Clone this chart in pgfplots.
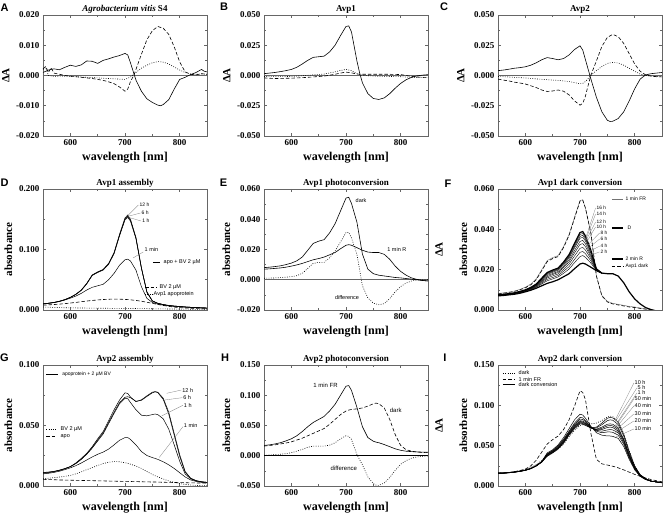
\documentclass[border=0pt]{standalone}
\usepackage{fontspec}
\setmainfont{Liberation Serif}
\newfontfamily\lab{Liberation Sans}
\usepackage{pgfplots}
\usepackage{pgfplotstable}
\pgfplotsset{compat=1.18}
\pgfplotsset{
  panel/.style={scale only axis, width=164pt, height=121pt, anchor=north west,
    xmin=550, xmax=850, xtick={600,700,800}, minor x tick num=1, minor y tick num=1,
    tick align=inside, major tick length=3pt, minor tick length=1.6pt,
    axis line style={black!60, line width=0.6pt}, tick style={black!60, line width=0.5pt},
    scaled y ticks=false,
    yticklabel style={/pgf/number format/.cd, fixed, fixed zerofill, precision=3},
    /pgf/number format/assume math mode=true,
    tick label style={font=\bfseries\fontsize{9}{10}\selectfont},
    xlabel={wavelength [nm]},
    xlabel style={font=\bfseries\fontsize{12}{12}\selectfont},
    ylabel style={font=\bfseries\fontsize{11}{11}\selectfont},
    every axis title shift=0pt,
    title style={font=\bfseries\fontsize{9}{10}\selectfont, at={(0.5,1)}, anchor=base, yshift=3.6pt, inner sep=0pt},
  },
}
\tikzset{
  sol/.style={black, line width=0.6pt},
  das/.style={black, line width=0.6pt, dash pattern=on 3.5pt off 2pt},
  dot/.style={black, line width=0.6pt, dash pattern=on 0.8pt off 1.5pt},
  zero/.style={black!60, line width=0.7pt},
  lbl/.style={font=\lab\fontsize{5.5}{6}\selectfont, inner sep=0.5pt, anchor=west},
  ldr/.style={black!50, line width=0.3pt},
}
\pgfplotstableread{
x dark fr r diff
550 .0080 .0082 .0070 .0010
560 .0083 .0085 .0072 .0011
570 .0087 .0089 .0075 .0012
580 .0092 .0094 .0078 .0014
590 .0100 .0102 .0083 .0017
600 .0110 .0113 .0090 .0020
610 .0125 .0129 .0098 .0027
620 .0150 .0155 .0108 .0042
630 .0195 .0200 .0120 .0075
640 .0240 .0245 .0132 .0108
650 .0255 .0260 .0140 .0115
660 .0265 .0270 .0150 .0115
670 .0310 .0315 .0165 .0145
680 .0370 .0375 .0180 .0190
690 .0455 .0460 .0205 .0250
700 .0540 .0543 .0228 .0312
705 .0545 .0546 .0232 .0313
710 .0505 .0505 .0228 .0277
720 .0380 .0378 .0212 .0168
730 .0170 .0165 .0195 -.0040
740 .0070 .0072 .0183 -.0120
750 .0040 .0043 .0180 -.0155
760 .0030 .0033 .0180 -.0165
770 .0025 .0028 .0168 -.0158
780 .0020 .0023 .0135 -.0125
790 .0015 .0018 .0090 -.0080
800 .0012 .0015 .0055 -.0045
810 .0008 .0010 .0030 -.0022
820 .0004 .0006 .0012 -.0008
830 .0000 .0002 .0002 -.0002
840 -.0005 -.0003 -.0005 .0000
850 -.0008 -.0006 -.0008 .0000
}\tabAvpA
\pgfplotstableread{
x h2 h4 h6 h8 h10 h12 h14 h16 hD
550 .0071 .0072 .0073 .0073 .0074 .0074 .0074 .0075 .0075
560 .0073 .0074 .0075 .0075 .0076 .0077 .0077 .0077 .0078
570 .0076 .0077 .0078 .0079 .0079 .0080 .0080 .0081 .0081
580 .0080 .0081 .0082 .0082 .0083 .0084 .0084 .0085 .0085
590 .0085 .0086 .0087 .0088 .0089 .0090 .0090 .0091 .0092
600 .0092 .0094 .0095 .0096 .0097 .0098 .0099 .0099 .0100
610 .0101 .0103 .0105 .0106 .0108 .0109 .0110 .0111 .0112
620 .0113 .0116 .0119 .0121 .0123 .0125 .0126 .0128 .0129
630 .0129 .0134 .0139 .0143 .0147 .0151 .0153 .0155 .0158
640 .0145 .0152 .0159 .0165 .0171 .0176 .0180 .0183 .0186
650 .0154 .0161 .0169 .0176 .0181 .0187 .0191 .0194 .0198
660 .0164 .0171 .0179 .0186 .0191 .0197 .0201 .0204 .0208
670 .0182 .0192 .0201 .0210 .0217 .0224 .0229 .0233 .0238
680 .0203 .0215 .0228 .0239 .0248 .0258 .0264 .0269 .0275
690 .0235 .0251 .0268 .0283 .0295 .0308 .0315 .0323 .0330
700 .0265 .0286 .0306 .0325 .0340 .0356 .0365 .0375 .0384
705 .0270 .0290 .0310 .0329 .0345 .0360 .0370 .0379 .0389
710 .0261 .0279 .0297 .0314 .0328 .0342 .0350 .0358 .0367
720 .0232 .0243 .0254 .0264 .0272 .0281 .0286 .0291 .0296
730 .0196 .0197 .0198 .0199 .0200 .0201 .0202 .0203 .0204
740 .0183 .0183 .0183 .0183 .0183 .0183 .0183 .0183 .0183
}\tabFint
\pgfplotstableread{
x h12 h6 h1 m1 bv apo
550 .0100 .0100 .0100 .0100 .0080 .0050
560 .0112 .0112 .0111 .0110 .0085 .0046
570 .0125 .0125 .0124 .0122 .0090 .0043
580 .0145 .0144 .0143 .0140 .0097 .0040
590 .0172 .0171 .0170 .0165 .0105 .0037
600 .0210 .0208 .0206 .0195 .0115 .0035
610 .0260 .0258 .0256 .0230 .0125 .0034
620 .0330 .0327 .0324 .0275 .0137 .0033
630 .0440 .0436 .0432 .0330 .0148 .0032
640 .0580 .0575 .0570 .0375 .0158 .0031
650 .0630 .0625 .0620 .0400 .0166 .0030
660 .0670 .0665 .0660 .0425 .0173 .0029
670 .0770 .0762 .0755 .0500 .0178 .0028
680 .0950 .0940 .0930 .0606 .0180 .0027
690 .1250 .1238 .1225 .0740 .0179 .0027
700 .1520 .1505 .1490 .0830 .0175 .0026
705 .1570 .1550 .1530 .0840 .0172 .0026
710 .1500 .1485 .1470 .0810 .0168 .0025
720 .1200 .1190 .1180 .0660 .0158 .0024
730 .0700 .0695 .0690 .0386 .0145 .0023
740 .0300 .0298 .0296 .0193 .0128 .0022
750 .0150 .0150 .0150 .0125 .0110 .0020
760 .0110 .0110 .0110 .0095 .0092 .0019
770 .0090 .0090 .0090 .0080 .0075 .0018
780 .0075 .0075 .0075 .0068 .0060 .0017
790 .0065 .0065 .0065 .0060 .0048 .0016
800 .0058 .0058 .0058 .0054 .0040 .0015
810 .0050 .0050 .0050 .0048 .0033 .0014
820 .0045 .0045 .0045 .0043 .0028 .0013
830 .0040 .0040 .0040 .0039 .0024 .0013
840 .0036 .0036 .0036 .0035 .0021 .0012
850 .0032 .0032 .0032 .0031 .0019 .0012
}\tabD
\pgfplotstableread{
x h12 h6 h1 m1 bv apo
550 .0105 .0110 .0112 .0100 .0060 .0055
560 .0110 .0114 .0115 .0105 .0064 .0053
570 .0118 .0120 .0121 .0112 .0069 .0052
580 .0128 .0130 .0131 .0122 .0074 .0050
590 .0142 .0143 .0144 .0135 .0080 .0049
600 .0160 .0160 .0160 .0150 .0087 .0048
610 .0190 .0187 .0185 .0168 .0100 .0047
620 .0228 .0222 .0220 .0190 .0117 .0046
630 .0270 .0265 .0262 .0215 .0135 .0045
640 .0325 .0318 .0313 .0240 .0152 .0044
650 .0390 .0380 .0372 .0262 .0170 .0043
660 .0450 .0440 .0430 .0280 .0185 .0042
670 .0540 .0525 .0515 .0305 .0196 .0041
680 .0630 .0610 .0600 .0340 .0202 .0040
690 .0710 .0690 .0680 .0378 .0200 .0039
700 .0770 .0733 .0725 .0400 .0192 .0038
705 .0765 .0738 .0722 .0400 .0188 .0038
710 .0735 .0730 .0690 .0385 .0180 .0037
720 .0697 .0700 .0630 .0340 .0165 .0036
730 .0712 .0708 .0585 .0285 .0145 .0035
740 .0745 .0740 .0580 .0252 .0120 .0034
750 .0775 .0770 .0590 .0235 .0095 .0033
755 .0780 .0778 .0595 .0228 .0085 .0033
760 .0775 .0772 .0590 .0220 .0075 .0032
770 .0725 .0715 .0555 .0200 .0058 .0031
780 .0610 .0595 .0470 .0175 .0042 .0030
790 .0435 .0420 .0340 .0145 .0030 .0029
800 .0260 .0245 .0205 .0110 .0020 .0028
810 .0120 .0115 .0100 .0075 .0013 .0027
820 .0065 .0062 .0060 .0050 .0008 .0026
830 .0045 .0043 .0042 .0038 .0005 .0025
840 .0035 .0034 .0035 .0030 .0003 .0025
850 .0030 .0030 .0030 .0025 .0002 .0024
}\tabG
\pgfplotstableread{
x fr dark diff
550 .0170 .0160 .0010
560 .0180 .0170 .0012
570 .0195 .0180 .0018
580 .0215 .0195 .0025
590 .0245 .0210 .0035
600 .0280 .0230 .0050
610 .0330 .0260 .0075
620 .0400 .0290 .0105
630 .0480 .0330 .0140
640 .0550 .0370 .0160
650 .0600 .0410 .0160
660 .0650 .0450 .0160
670 .0740 .0520 .0175
680 .0850 .0600 .0215
690 .1000 .0680 .0280
700 .1150 .0740 .0330
705 .1160 .0755 .0320
710 .1080 .0765 .0270
720 .0800 .0775 .0020
730 .0480 .0790 -.0150
740 .0300 .0820 -.0350
750 .0240 .0860 -.0460
755 .0225 .0870 -.0485
760 .0215 .0860 -.0490
770 .0185 .0790 -.0450
780 .0150 .0600 -.0360
790 .0115 .0350 -.0240
800 .0090 .0170 -.0140
810 .0075 .0100 -.0080
820 .0068 .0075 -.0040
830 .0063 .0062 -.0020
840 .0060 .0055 -.0008
850 .0058 .0050 -.0003
}\tabH
\pgfplotstableread{
x fr dark m10 m20 m30 m40 m50 h1 h5 h10
550 .0156 .0160 .0158 .0159 .0160 .0160 .0161 .0161 .0162 .0163
560 .0160 .0162 .0158 .0159 .0160 .0160 .0161 .0161 .0162 .0163
570 .0168 .0168 .0163 .0164 .0165 .0165 .0166 .0166 .0167 .0168
580 .0178 .0176 .0170 .0171 .0172 .0172 .0173 .0173 .0174 .0175
590 .0192 .0188 .0180 .0181 .0182 .0182 .0183 .0183 .0184 .0185
600 .0210 .0205 .0193 .0194 .0195 .0195 .0196 .0196 .0197 .0198
610 .0250 .0230 .0215 .0215 .0216 .0216 .0217 .0217 .0218 .0218
620 .0320 .0265 .0252 .0251 .0251 .0250 .0250 .0249 .0249 .0248
630 .0420 .0315 .0305 .0303 .0302 .0300 .0299 .0298 .0296 .0295
640 .0520 .0370 .0410 .0400 .0395 .0390 .0385 .0380 .0375 .0370
650 .0575 .0410 .0450 .0440 .0435 .0430 .0425 .0420 .0415 .0410
660 .0620 .0455 .0510 .0500 .0490 .0480 .0475 .0470 .0465 .0460
670 .0700 .0520 .0600 .0580 .0570 .0560 .0550 .0545 .0540 .0530
680 .0820 .0610 .0710 .0680 .0670 .0660 .0650 .0645 .0640 .0630
690 .0990 .0690 .0820 .0780 .0765 .0750 .0740 .0730 .0720 .0710
700 .1180 .0750 .0890 .0850 .0830 .0810 .0800 .0790 .0780 .0770
705 .1160 .0758 .0880 .0845 .0825 .0805 .0795 .0785 .0775 .0765
710 .1070 .0765 .0840 .0810 .0800 .0785 .0775 .0770 .0760 .0750
720 .0650 .0770 .0740 .0730 .0725 .0720 .0720 .0720 .0720 .0720
730 .0330 .0780 .0660 .0680 .0690 .0695 .0700 .0705 .0720 .0730
740 .0275 .0810 .0630 .0660 .0680 .0700 .0715 .0730 .0760 .0780
750 .0260 .0855 .0620 .0670 .0695 .0725 .0745 .0765 .0810 .0840
755 .0252 .0865 .0620 .0670 .0700 .0730 .0750 .0770 .0820 .0850
760 .0245 .0860 .0615 .0665 .0695 .0725 .0745 .0765 .0815 .0845
770 .0225 .0800 .0590 .0630 .0660 .0680 .0700 .0720 .0760 .0790
780 .0200 .0650 .0490 .0520 .0540 .0560 .0570 .0580 .0620 .0640
790 .0172 .0440 .0330 .0350 .0360 .0370 .0380 .0390 .0410 .0430
800 .0144 .0250 .0200 .0210 .0220 .0220 .0230 .0230 .0240 .0250
810 .0120 .0140 .0120 .0120 .0130 .0130 .0130 .0130 .0140 .0140
820 .0100 .0090 .0080 .0080 .0080 .0090 .0090 .0090 .0090 .0090
830 .0080 .0065 .0060 .0060 .0060 .0060 .0060 .0060 .0060 .0060
840 .0065 .0052 .0050 .0050 .0050 .0050 .0050 .0050 .0050 .0050
850 .0052 .0045 .0040 .0040 .0040 .0040 .0040 .0040 .0040 .0040
}\tabI
\begin{document}
\begin{tikzpicture}
\path[use as bounding box] (0,0) rectangle (664pt,514pt);
% ---------------- A
\begin{axis}[panel, at={(43pt,499pt)}, ymin=-0.02, ymax=0.02, ytick={-0.02,-0.01,0,0.01,0.02},
  ylabel={ΔA}, title={\textit{Agrobacterium vitis} S4}]
\addplot[zero] coordinates {(550,0) (850,0)};
\addplot[sol] coordinates {(550,.0010)(560,.0018)(570,.0022)(580,.0019)(590,.0027)(600,.0034)(610,.0030)(620,.0035)(630,.0048)(640,.0047)(650,.0040)(660,.0050)(670,.0055)(680,.0061)(690,.0066)(700,.0073)(705,.0068)(710,.0042)(720,-.0015)(730,-.0052)(740,-.0077)(750,-.0089)(760,-.0098)(765,-.0100)(770,-.0096)(780,-.0080)(790,-.0045)(800,-.0013)(810,-.0006)(820,.0003)(830,.0010)(840,.0020)(845,.0014)(850,.0012)};
\addplot[das] coordinates {(550,.0022)(555,.0030)(560,.0010)(565,.0026)(570,.0008)(580,.0004)(590,.0000)(600,-.0002)(610,-.0004)(620,-.0006)(630,-.0008)(640,-.0010)(650,-.0013)(660,-.0016)(670,-.0021)(680,-.0027)(690,-.0038)(700,-.0052)(705,-.0045)(710,-.0020)(716,.0000)(720,.0020)(730,.0070)(740,.0118)(750,.0148)(760,.0162)(770,.0156)(780,.0136)(790,.0095)(800,.0045)(810,.0012)(820,.0004)(830,.0002)(840,.0006)(850,.0004)};
\addplot[dot] coordinates {(550,.0020)(555,.0026)(560,.0000)(570,-.0003)(580,-.0002)(600,-.0003)(620,-.0005)(640,-.0007)(660,-.0009)(680,-.0011)(700,-.0013)(710,-.0005)(720,.0010)(730,.0024)(740,.0034)(750,.0042)(760,.0046)(770,.0044)(780,.0038)(790,.0028)(800,.0018)(810,.0010)(820,.0005)(830,.0004)(840,.0005)(850,.0004)};
\end{axis}
% ---------------- B
\begin{axis}[panel, at={(264pt,499pt)}, ymin=-0.05, ymax=0.05, ytick={-0.05,-0.025,0,0.025,0.05},
  ylabel={ΔA}, title={Avp1}]
\addplot[zero] coordinates {(550,0) (850,0)};
\addplot[sol] coordinates {(550,.0015)(560,.0020)(570,.0025)(580,.0032)(590,.0040)(600,.0050)(610,.0068)(620,.0095)(630,.0125)(640,.0150)(650,.0155)(660,.0160)(670,.0195)(680,.0250)(690,.0330)(700,.0405)(705,.0410)(710,.0360)(720,.0120)(725,.0020)(730,-.0060)(740,-.0150)(750,-.0190)(760,-.0198)(770,-.0185)(780,-.0150)(790,-.0105)(800,-.0065)(810,-.0035)(820,-.0015)(830,-.0003)(840,.0003)(850,.0007)};
\addplot[das] coordinates {(550,-.0020)(570,-.0025)(600,-.0022)(620,-.0018)(640,-.0012)(660,-.0005)(680,.0010)(690,.0020)(700,.0028)(710,.0022)(720,.0012)(730,.0010)(750,.0010)(780,.0010)(800,.0008)(810,.0000)(820,-.0008)(830,-.0012)(840,-.0015)(850,-.0015)};
\addplot[dot] coordinates {(550,-.0008)(570,-.0010)(600,-.0008)(620,-.0002)(640,.0005)(660,.0012)(680,.0030)(690,.0042)(700,.0050)(710,.0040)(720,.0015)(730,.0002)(750,-.0005)(780,-.0008)(800,-.0010)(820,-.0015)(840,-.0018)(850,-.0018)};
\end{axis}
% ---------------- C
\begin{axis}[panel, at={(498pt,499pt)}, ymin=-0.05, ymax=0.05, ytick={-0.05,-0.025,0,0.025,0.05},
  ylabel={ΔA}, title={Avp2}]
\addplot[zero] coordinates {(550,0) (850,0)};
\addplot[sol] coordinates {(550,.0040)(560,.0045)(570,.0052)(580,.0060)(590,.0065)(600,.0072)(610,.0085)(620,.0105)(630,.0130)(640,.0148)(650,.0140)(660,.0130)(670,.0140)(680,.0170)(690,.0215)(700,.0245)(705,.0210)(710,.0130)(715,.0050)(720,-.0030)(730,-.0180)(740,-.0300)(750,-.0370)(755,-.0380)(760,-.0378)(770,-.0355)(780,-.0300)(790,-.0210)(800,-.0110)(810,-.0030)(820,.0005)(830,.0015)(840,.0020)(850,.0025)};
\addplot[das] coordinates {(550,-.0030)(560,-.0038)(570,-.0045)(580,-.0055)(590,-.0062)(600,-.0070)(610,-.0085)(620,-.0100)(630,-.0120)(640,-.0132)(650,-.0128)(660,-.0120)(670,-.0130)(680,-.0160)(690,-.0210)(700,-.0245)(705,-.0230)(710,-.0170)(715,-.0080)(720,.0005)(730,.0120)(740,.0240)(750,.0315)(760,.0340)(770,.0320)(780,.0265)(790,.0180)(800,.0095)(810,.0035)(820,.0005)(830,-.0005)(840,-.0010)(850,-.0012)};
\addplot[dot] coordinates {(550,-.0008)(560,-.0010)(580,-.0015)(600,-.0020)(620,-.0028)(640,-.0035)(660,-.0040)(680,-.0050)(700,-.0068)(705,-.0065)(710,-.0050)(715,-.0025)(720,.0003)(730,.0040)(740,.0075)(750,.0100)(760,.0108)(770,.0103)(780,.0085)(790,.0060)(800,.0035)(810,.0012)(820,.0000)(830,-.0005)(840,-.0008)(850,-.0010)};
\end{axis}
% ---------------- D
\begin{axis}[panel, at={(43pt,325pt)}, ymin=0, ymax=0.2, ytick={0,0.1,0.2},
  ylabel={absorbance}, title={Avp1 assembly}]
\addplot[sol, line width=0.5pt] table[x=x,y=h12]{\tabD};
\addplot[sol, line width=0.5pt] table[x=x,y=h6]{\tabD};
\addplot[sol, line width=0.5pt] table[x=x,y=h1]{\tabD};
\addplot[sol, line width=0.5pt] table[x=x,y=m1]{\tabD};
\addplot[das] table[x=x,y=bv]{\tabD};
\addplot[dot] table[x=x,y=apo]{\tabD};
\draw[ldr] (axis cs:705,0.156) -- (axis cs:724.5,0.1736);
\draw[ldr] (axis cs:706,0.155) -- (axis cs:728.3,0.1603);
\draw[ldr] (axis cs:707,0.153) -- (axis cs:729.5,0.1471);
\draw[ldr] (axis cs:714.6,0.086) -- (axis cs:733.5,0.0960);
\node[lbl, font=\lab\fontsize{5}{6}\selectfont] at (axis cs:725.6,0.1736) {12 h};
\node[lbl, font=\lab\fontsize{5}{6}\selectfont] at (axis cs:729.3,0.1603) {6 h};
\node[lbl, font=\lab\fontsize{5}{6}\selectfont] at (axis cs:730.5,0.1471) {1 h};
\node[lbl] at (axis cs:734.8,0.0992) {1 min};
\draw[black, line width=0.7pt] (axis cs:751,0.0793) -- (axis cs:764,0.0793);
\node[lbl] at (axis cs:769.5,0.0793) {apo + BV 2 µM};
\draw[das] (axis cs:736.6,0.038) -- (axis cs:758.5,0.038);
\node[lbl] at (axis cs:762.2,0.038) {BV 2 µM};
\draw[dot] (axis cs:736.6,0.0264) -- (axis cs:749.4,0.0264);
\node[lbl] at (axis cs:751.2,0.0264) {Avp1 apoprotein};
\end{axis}
% ---------------- E
\begin{axis}[panel, name=E, at={(264pt,325pt)}, ymin=-0.02, ymax=0.06, ytick={-0.02,0,0.02,0.04,0.06},
  ylabel={absorbance}, title={Avp1 photoconversion}]
\addplot[zero] coordinates {(550,0) (850,0)};
\addplot[sol] table[x=x,y=dark]{\tabAvpA};
\addplot[sol] table[x=x,y=r]{\tabAvpA};
\addplot[dot] table[x=x,y=diff]{\tabAvpA};
\node[lbl] at (axis cs:716.5,0.0521) {dark};
\node[lbl] at (axis cs:774.4,0.0201) {1 min R};
\node[lbl] at (axis cs:678.6,-0.0119) {difference};
\end{axis}
\node[rotate=90, font=\bfseries\fontsize{11}{11}\selectfont] at ([xshift=11pt]E.east) {ΔA};
% ---------------- F
\begin{axis}[panel, at={(498pt,325pt)}, ymin=0, ymax=0.06, ytick={0,0.02,0.04,0.06},
  ylabel={absorbance}, title={Avp1 dark conversion}]
\addplot[black!55, line width=0.4pt] table[x=x,y=fr]{\tabAvpA};
\addplot[das] table[x=x,y=dark]{\tabAvpA};
\addplot[black, line width=1.2pt] table[x=x,y=r]{\tabAvpA};
\addplot[black, line width=0.4pt] table[x=x,y=h2]{\tabFint};
\addplot[black, line width=0.4pt] table[x=x,y=h4]{\tabFint};
\addplot[black, line width=0.4pt] table[x=x,y=h6]{\tabFint};
\addplot[black, line width=0.4pt] table[x=x,y=h8]{\tabFint};
\addplot[black, line width=0.4pt] table[x=x,y=h10]{\tabFint};
\addplot[black, line width=0.4pt] table[x=x,y=h12]{\tabFint};
\addplot[black, line width=0.4pt] table[x=x,y=h14]{\tabFint};
\addplot[black, line width=0.4pt] table[x=x,y=h16]{\tabFint};
\addplot[black, line width=1.2pt] table[x=x,y=hD]{\tabFint};
\draw[ldr] (axis cs:711,0.0362) -- (axis cs:728.5,0.0506);
\draw[ldr] (axis cs:711,0.0353) -- (axis cs:728.5,0.0476);
\draw[ldr] (axis cs:711,0.0345) -- (axis cs:728.5,0.0436);
\draw[ldr] (axis cs:711,0.0331) -- (axis cs:728.5,0.0412);
\draw[ldr] (axis cs:712,0.0316) -- (axis cs:736,0.0382);
\draw[ldr] (axis cs:712,0.0300) -- (axis cs:736,0.0352);
\draw[ldr] (axis cs:712,0.0283) -- (axis cs:736,0.0317);
\draw[ldr] (axis cs:712,0.0265) -- (axis cs:736,0.0288);
\node[lbl, font=\lab\fontsize{4.8}{5}\selectfont] at (axis cs:729.3,0.0506) {16 h};
\node[lbl, font=\lab\fontsize{4.8}{5}\selectfont] at (axis cs:729.3,0.0476) {14 h};
\node[lbl, font=\lab\fontsize{4.8}{5}\selectfont] at (axis cs:729.3,0.0436) {12 h};
\node[lbl, font=\lab\fontsize{4.8}{5}\selectfont] at (axis cs:729.3,0.0412) {10 h};
\node[lbl, font=\lab\fontsize{4.8}{5}\selectfont] at (axis cs:736.6,0.0382) {8 h};
\node[lbl, font=\lab\fontsize{4.8}{5}\selectfont] at (axis cs:736.6,0.0352) {6 h};
\node[lbl, font=\lab\fontsize{4.8}{5}\selectfont] at (axis cs:736.6,0.0317) {4 h};
\node[lbl, font=\lab\fontsize{4.8}{5}\selectfont] at (axis cs:736.6,0.0288) {2 h};
\draw[black!55, line width=0.4pt] (axis cs:758.5,0.055) -- (axis cs:778.7,0.055);
\node[lbl, font=\lab\fontsize{5}{6}\selectfont] at (axis cs:782.3,0.055) {1 min FR};
\draw[black, line width=1.2pt] (axis cs:758.5,0.0407) -- (axis cs:778.7,0.0407);
\node[lbl, font=\lab\fontsize{5}{6}\selectfont] at (axis cs:786,0.0407) {D};
\draw[black, line width=1.2pt] (axis cs:758.5,0.0253) -- (axis cs:778.7,0.0253);
\node[lbl, font=\lab\fontsize{5}{6}\selectfont] at (axis cs:782.3,0.0253) {2 min R};
\draw[das] (axis cs:758.5,0.0218) -- (axis cs:778.7,0.0218);
\node[lbl, font=\lab\fontsize{5}{6}\selectfont] at (axis cs:782.3,0.0218) {Avp1 dark};
\end{axis}
% ---------------- G
\begin{axis}[panel, at={(43pt,149pt)}, ymin=0, ymax=0.1, ytick={0,0.05,0.1},
  ylabel={absorbance}, title={Avp2 assembly}]
\addplot[sol, line width=0.5pt] table[x=x,y=h12]{\tabG};
\addplot[sol, line width=0.5pt] table[x=x,y=h6]{\tabG};
\addplot[sol, line width=0.5pt] table[x=x,y=h1]{\tabG};
\addplot[sol, line width=0.5pt] table[x=x,y=m1]{\tabG};
\addplot[dot] table[x=x,y=bv]{\tabG};
\addplot[das] table[x=x,y=apo]{\tabG};
\draw[ldr] (axis cs:776,0.0766) -- (axis cs:803,0.0793);
\draw[ldr] (axis cs:773,0.0711) -- (axis cs:805,0.0730);
\draw[ldr] (axis cs:767,0.0579) -- (axis cs:806,0.0667);
\draw[ldr] (axis cs:762.8,0.0237) -- (axis cs:806,0.0490);
\node[lbl] at (axis cs:803.7,0.0793) {12 h};
\node[lbl] at (axis cs:805.5,0.0730) {6 h};
\node[lbl] at (axis cs:806.6,0.0667) {1 h};
\node[lbl] at (axis cs:806.6,0.0496) {1 min};
\draw[black, line width=0.7pt] (axis cs:556,0.0923) -- (axis cs:578,0.0923);
\node[lbl, font=\lab\fontsize{5}{6}\selectfont] at (axis cs:584,0.0923) {apoprotein + 2 µM BV};
\draw[dot] (axis cs:556,0.0468) -- (axis cs:576,0.0468);
\node[lbl] at (axis cs:581,0.0468) {BV 2 µM};
\draw[das] (axis cs:556,0.0407) -- (axis cs:576,0.0407);
\node[lbl] at (axis cs:581,0.0407) {apo};
\end{axis}
% ---------------- H
\begin{axis}[panel, name=H, at={(264pt,149pt)}, ymin=-0.05, ymax=0.15, ytick={-0.05,0,0.05,0.1,0.15},
  ylabel={absorbance}, title={Avp2 photoconversion}]
\addplot[zero, black] coordinates {(550,0) (850,0)};
\addplot[sol] table[x=x,y=fr]{\tabH};
\addplot[das] table[x=x,y=dark]{\tabH};
\addplot[dot] table[x=x,y=diff]{\tabH};
\node[lbl, font=\lab\fontsize{6}{7}\selectfont] at (axis cs:639,0.1158) {1 min FR};
\node[lbl, font=\lab\fontsize{6}{7}\selectfont] at (axis cs:779,0.0756) {dark};
\node[lbl, font=\lab\fontsize{6}{7}\selectfont] at (axis cs:670.7,-0.0202) {difference};
\end{axis}
\node[rotate=90, font=\bfseries\fontsize{11}{11}\selectfont] at ([xshift=11pt]H.east) {ΔA};
% ---------------- I
\begin{axis}[panel, at={(498pt,149pt)}, ymin=0, ymax=0.15, ytick={0,0.05,0.1,0.15},
  ylabel={absorbance}, title={Avp2 dark conversion}]
\addplot[das] table[x=x,y=fr]{\tabI};
\addplot[dot] table[x=x,y=dark]{\tabI};
\addplot[black, line width=0.5pt] table[x=x,y=m10]{\tabI};
\addplot[black, line width=0.5pt] table[x=x,y=m20]{\tabI};
\addplot[black, line width=0.5pt] table[x=x,y=m30]{\tabI};
\addplot[black, line width=0.5pt] table[x=x,y=m40]{\tabI};
\addplot[black, line width=0.5pt] table[x=x,y=m50]{\tabI};
\addplot[black, line width=0.5pt] table[x=x,y=h1]{\tabI};
\addplot[black, line width=0.5pt] table[x=x,y=h5]{\tabI};
\addplot[black, line width=0.5pt] table[x=x,y=h10]{\tabI};
\draw[ldr] (axis cs:765,0.0825) -- (axis cs:798.5,0.1277);
\draw[ldr] (axis cs:765,0.0800) -- (axis cs:804,0.1215);
\draw[ldr] (axis cs:765,0.0755) -- (axis cs:804,0.1153);
\draw[ldr] (axis cs:765,0.0735) -- (axis cs:798.5,0.1079);
\draw[ldr] (axis cs:765,0.0715) -- (axis cs:798.5,0.0992);
\draw[ldr] (axis cs:765,0.0690) -- (axis cs:798.5,0.0893);
\draw[ldr] (axis cs:765,0.0660) -- (axis cs:798.5,0.0806);
\draw[ldr] (axis cs:765,0.0605) -- (axis cs:798.5,0.0707);
\node[lbl] at (axis cs:798.8,0.1277) {10 h};
\node[lbl] at (axis cs:804.3,0.1215) {5 h};
\node[lbl] at (axis cs:804.3,0.1153) {1 h};
\node[lbl] at (axis cs:798.8,0.1079) {50 min};
\node[lbl] at (axis cs:798.8,0.0992) {40 min};
\node[lbl] at (axis cs:798.8,0.0893) {30 min};
\node[lbl] at (axis cs:798.8,0.0806) {20 min};
\node[lbl] at (axis cs:798.8,0.0707) {10 min};
\draw[dot] (axis cs:559,0.1401) -- (axis cs:581,0.1401);
\node[lbl] at (axis cs:586.6,0.1401) {dark};
\draw[das] (axis cs:559,0.1326) -- (axis cs:581,0.1326);
\node[lbl] at (axis cs:586.6,0.1326) {1 min FR};
\draw[black, line width=0.8pt] (axis cs:559,0.1264) -- (axis cs:581,0.1264);
\node[lbl] at (axis cs:586.6,0.1264) {dark conversion};
\end{axis}
% panel letters
\begin{scope}[every node/.style={font=\lab\bfseries\fontsize{11}{11}\selectfont, inner sep=0pt}]
\node at (4.5pt,506pt) {A};
\node at (224pt,507pt) {B};
\node at (444pt,507pt) {C};
\node at (4.5pt,331pt) {D};
\node at (223.5pt,331pt) {E};
\node at (448pt,330pt) {F};
\node at (4.5pt,156pt) {G};
\node at (225pt,156pt) {H};
\node at (445pt,156pt) {I};
\end{scope}
\end{tikzpicture}
\end{document}
